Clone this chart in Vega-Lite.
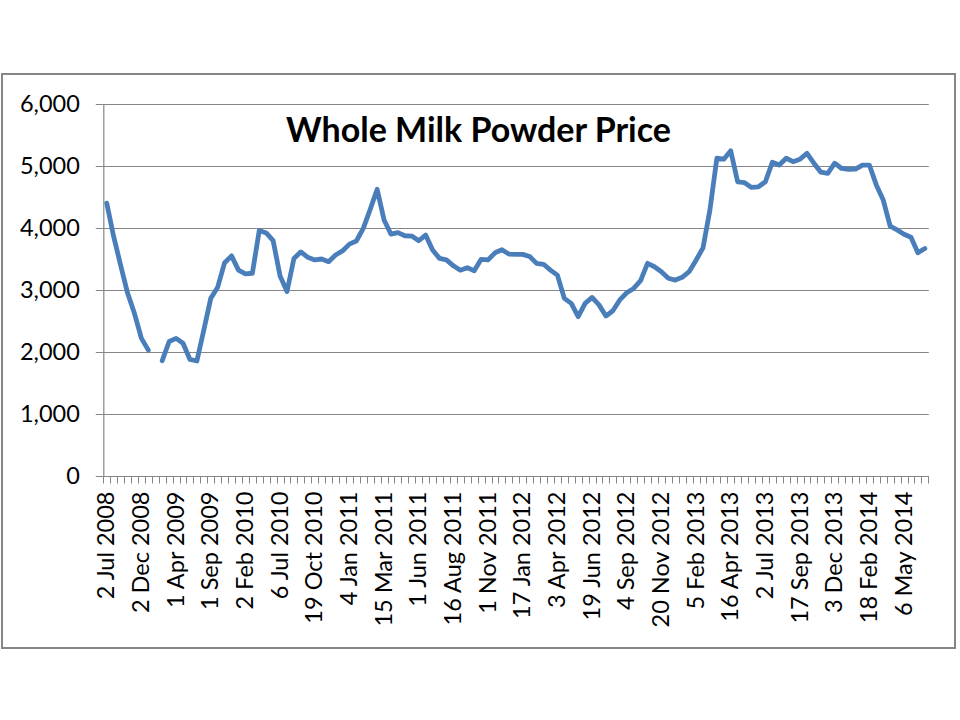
{
  "$schema": "https://vega.github.io/schema/vega-lite/v6.json",
  "autosize": {"type": "none"},
  "padding": {"left": 2, "top": 74, "right": 5, "bottom": 72},
  "width": 953,
  "height": 574,
  "background": "white",
  "title": {
    "text": "Whole Milk Powder Price",
    "anchor": "middle",
    "frame": "group",
    "font": "Lato",
    "fontSize": 34,
    "fontWeight": "bold",
    "color": "black",
    "baseline": "alphabetic",
    "offset": 0,
    "dy": 102
  },
  "data": {
    "values": [
      {"i": 0, "date": "2 Jul 2008", "price": 4400},
      {"i": 1, "date": "5 Aug 2008", "price": 3860},
      {"i": 2, "date": "2 Sep 2008", "price": 3400},
      {"i": 3, "date": "7 Oct 2008", "price": 2950},
      {"i": 4, "date": "4 Nov 2008", "price": 2620},
      {"i": 5, "date": "2 Dec 2008", "price": 2220},
      {"i": 6, "date": "16 Dec 2008", "price": 2030},
      {"i": 7, "date": "6 Jan 2009", "price": null},
      {"i": 8, "date": "3 Feb 2009", "price": 1860},
      {"i": 9, "date": "3 Mar 2009", "price": 2170},
      {"i": 10, "date": "1 Apr 2009", "price": 2220},
      {"i": 11, "date": "5 May 2009", "price": 2140},
      {"i": 12, "date": "2 Jun 2009", "price": 1880},
      {"i": 13, "date": "7 Jul 2009", "price": 1855},
      {"i": 14, "date": "4 Aug 2009", "price": 2355},
      {"i": 15, "date": "1 Sep 2009", "price": 2865},
      {"i": 16, "date": "6 Oct 2009", "price": 3045},
      {"i": 17, "date": "3 Nov 2009", "price": 3440},
      {"i": 18, "date": "1 Dec 2009", "price": 3550},
      {"i": 19, "date": "5 Jan 2010", "price": 3320},
      {"i": 20, "date": "2 Feb 2010", "price": 3260},
      {"i": 21, "date": "2 Mar 2010", "price": 3270},
      {"i": 22, "date": "6 Apr 2010", "price": 3960},
      {"i": 23, "date": "4 May 2010", "price": 3920},
      {"i": 24, "date": "1 Jun 2010", "price": 3795},
      {"i": 25, "date": "6 Jul 2010", "price": 3225},
      {"i": 26, "date": "3 Aug 2010", "price": 2975},
      {"i": 27, "date": "1 Sep 2010", "price": 3510},
      {"i": 28, "date": "15 Sep 2010", "price": 3615},
      {"i": 29, "date": "5 Oct 2010", "price": 3527},
      {"i": 30, "date": "19 Oct 2010", "price": 3485},
      {"i": 31, "date": "2 Nov 2010", "price": 3500},
      {"i": 32, "date": "16 Nov 2010", "price": 3457},
      {"i": 33, "date": "1 Dec 2010", "price": 3565},
      {"i": 34, "date": "15 Dec 2010", "price": 3630},
      {"i": 35, "date": "4 Jan 2011", "price": 3740},
      {"i": 36, "date": "18 Jan 2011", "price": 3790},
      {"i": 37, "date": "1 Feb 2011", "price": 3995},
      {"i": 38, "date": "15 Feb 2011", "price": 4300},
      {"i": 39, "date": "1 Mar 2011", "price": 4625},
      {"i": 40, "date": "15 Mar 2011", "price": 4130},
      {"i": 41, "date": "5 Apr 2011", "price": 3900},
      {"i": 42, "date": "19 Apr 2011", "price": 3925},
      {"i": 43, "date": "3 May 2011", "price": 3875},
      {"i": 44, "date": "17 May 2011", "price": 3870},
      {"i": 45, "date": "1 Jun 2011", "price": 3795},
      {"i": 46, "date": "15 Jun 2011", "price": 3885},
      {"i": 47, "date": "5 Jul 2011", "price": 3645},
      {"i": 48, "date": "19 Jul 2011", "price": 3510},
      {"i": 49, "date": "2 Aug 2011", "price": 3485},
      {"i": 50, "date": "16 Aug 2011", "price": 3390},
      {"i": 51, "date": "1 Sep 2011", "price": 3320},
      {"i": 52, "date": "20 Sep 2011", "price": 3360},
      {"i": 53, "date": "4 Oct 2011", "price": 3310},
      {"i": 54, "date": "18 Oct 2011", "price": 3495},
      {"i": 55, "date": "1 Nov 2011", "price": 3485},
      {"i": 56, "date": "15 Nov 2011", "price": 3600},
      {"i": 57, "date": "1 Dec 2011", "price": 3650},
      {"i": 58, "date": "15 Dec 2011", "price": 3580},
      {"i": 59, "date": "4 Jan 2012", "price": 3575},
      {"i": 60, "date": "17 Jan 2012", "price": 3575},
      {"i": 61, "date": "1 Feb 2012", "price": 3540},
      {"i": 62, "date": "15 Feb 2012", "price": 3430},
      {"i": 63, "date": "6 Mar 2012", "price": 3415},
      {"i": 64, "date": "20 Mar 2012", "price": 3320},
      {"i": 65, "date": "3 Apr 2012", "price": 3240},
      {"i": 66, "date": "17 Apr 2012", "price": 2865},
      {"i": 67, "date": "1 May 2012", "price": 2785},
      {"i": 68, "date": "15 May 2012", "price": 2570},
      {"i": 69, "date": "5 Jun 2012", "price": 2785},
      {"i": 70, "date": "19 Jun 2012", "price": 2880},
      {"i": 71, "date": "3 Jul 2012", "price": 2760},
      {"i": 72, "date": "17 Jul 2012", "price": 2580},
      {"i": 73, "date": "1 Aug 2012", "price": 2665},
      {"i": 74, "date": "21 Aug 2012", "price": 2840},
      {"i": 75, "date": "4 Sep 2012", "price": 2955},
      {"i": 76, "date": "18 Sep 2012", "price": 3025},
      {"i": 77, "date": "2 Oct 2012", "price": 3150},
      {"i": 78, "date": "16 Oct 2012", "price": 3430},
      {"i": 79, "date": "6 Nov 2012", "price": 3375},
      {"i": 80, "date": "20 Nov 2012", "price": 3295},
      {"i": 81, "date": "4 Dec 2012", "price": 3190},
      {"i": 82, "date": "18 Dec 2012", "price": 3160},
      {"i": 83, "date": "2 Jan 2013", "price": 3205},
      {"i": 84, "date": "16 Jan 2013", "price": 3295},
      {"i": 85, "date": "5 Feb 2013", "price": 3480},
      {"i": 86, "date": "19 Feb 2013", "price": 3680},
      {"i": 87, "date": "5 Mar 2013", "price": 4290},
      {"i": 88, "date": "19 Mar 2013", "price": 5125},
      {"i": 89, "date": "2 Apr 2013", "price": 5110},
      {"i": 90, "date": "16 Apr 2013", "price": 5245},
      {"i": 91, "date": "1 May 2013", "price": 4745},
      {"i": 92, "date": "21 May 2013", "price": 4730},
      {"i": 93, "date": "4 Jun 2013", "price": 4655},
      {"i": 94, "date": "18 Jun 2013", "price": 4665},
      {"i": 95, "date": "2 Jul 2013", "price": 4745},
      {"i": 96, "date": "16 Jul 2013", "price": 5060},
      {"i": 97, "date": "6 Aug 2013", "price": 5015},
      {"i": 98, "date": "20 Aug 2013", "price": 5125},
      {"i": 99, "date": "3 Sep 2013", "price": 5070},
      {"i": 100, "date": "17 Sep 2013", "price": 5110},
      {"i": 101, "date": "1 Oct 2013", "price": 5205},
      {"i": 102, "date": "15 Oct 2013", "price": 5045},
      {"i": 103, "date": "5 Nov 2013", "price": 4900},
      {"i": 104, "date": "19 Nov 2013", "price": 4880},
      {"i": 105, "date": "3 Dec 2013", "price": 5045},
      {"i": 106, "date": "17 Dec 2013", "price": 4960},
      {"i": 107, "date": "7 Jan 2014", "price": 4945},
      {"i": 108, "date": "21 Jan 2014", "price": 4950},
      {"i": 109, "date": "4 Feb 2014", "price": 5015},
      {"i": 110, "date": "18 Feb 2014", "price": 5015},
      {"i": 111, "date": "4 Mar 2014", "price": 4695},
      {"i": 112, "date": "18 Mar 2014", "price": 4450},
      {"i": 113, "date": "1 Apr 2014", "price": 4030},
      {"i": 114, "date": "15 Apr 2014", "price": 3970},
      {"i": 115, "date": "6 May 2014", "price": 3900},
      {"i": 116, "date": "20 May 2014", "price": 3850},
      {"i": 117, "date": "3 Jun 2014", "price": 3600},
      {"i": 118, "date": "17 Jun 2014", "price": 3670}
    ]
  },
  "mark": {
    "type": "line",
    "color": "#4A7EBB",
    "strokeWidth": 4.8,
    "strokeJoin": "round",
    "strokeCap": "round",
    "invalid": "break-paths-show-domains"
  },
  "encoding": {
    "x": {
      "field": "i",
      "type": "quantitative",
      "scale": {"domain": [-0.5, 118.5], "range": [101.3, 926.3], "nice": false, "zero": false},
      "axis": {
        "title": null,
        "orient": "bottom",
        "offset": -172,
        "grid": false,
        "values": [-0.5, 0.5, 1.5, 2.5, 3.5, 4.5, 5.5, 6.5, 7.5, 8.5, 9.5, 10.5, 11.5, 12.5, 13.5, 14.5, 15.5, 16.5, 17.5, 18.5, 19.5, 20.5, 21.5, 22.5, 23.5, 24.5, 25.5, 26.5, 27.5, 28.5, 29.5, 30.5, 31.5, 32.5, 33.5, 34.5, 35.5, 36.5, 37.5, 38.5, 39.5, 40.5, 41.5, 42.5, 43.5, 44.5, 45.5, 46.5, 47.5, 48.5, 49.5, 50.5, 51.5, 52.5, 53.5, 54.5, 55.5, 56.5, 57.5, 58.5, 59.5, 60.5, 61.5, 62.5, 63.5, 64.5, 65.5, 66.5, 67.5, 68.5, 69.5, 70.5, 71.5, 72.5, 73.5, 74.5, 75.5, 76.5, 77.5, 78.5, 79.5, 80.5, 81.5, 82.5, 83.5, 84.5, 85.5, 86.5, 87.5, 88.5, 89.5, 90.5, 91.5, 92.5, 93.5, 94.5, 95.5, 96.5, 97.5, 98.5, 99.5, 100.5, 101.5, 102.5, 103.5, 104.5, 105.5, 106.5, 107.5, 108.5, 109.5, 110.5, 111.5, 112.5, 113.5, 114.5, 115.5, 116.5, 117.5, 118.5],
        "labelExpr": "(datum.value + 0.5) % 5 == 0 && datum.value < 118 ? ['2 Jul 2008', '2 Dec 2008', '1 Apr 2009', '1 Sep 2009', '2 Feb 2010', '6 Jul 2010', '19 Oct 2010', '4 Jan 2011', '15 Mar 2011', '1 Jun 2011', '16 Aug 2011', '1 Nov 2011', '17 Jan 2012', '3 Apr 2012', '19 Jun 2012', '4 Sep 2012', '20 Nov 2012', '5 Feb 2013', '16 Apr 2013', '2 Jul 2013', '17 Sep 2013', '3 Dec 2013', '18 Feb 2014', '6 May 2014'][(datum.value + 0.5) / 5] : ''",
        "labelAngle": -90,
        "labelAlign": "right",
        "labelBaseline": "middle",
        "labelOffset": 3.47,
        "labelPadding": 8,
        "labelFlush": false,
        "labelOverlap": false,
        "labelBound": false,
        "labelFont": "Lato",
        "labelFontSize": 23.5,
        "labelColor": "black",
        "tickSize": 7,
        "tickColor": "#868686",
        "domainColor": "#868686",
        "domainWidth": 1.2
      }
    },
    "y": {
      "field": "price",
      "type": "quantitative",
      "scale": {"domain": [0, 6000], "range": [402, 30], "nice": false},
      "axis": {
        "title": null,
        "orient": "left",
        "offset": -101.3,
        "values": [0, 1000, 2000, 3000, 4000, 5000, 6000],
        "format": ",.0f",
        "grid": true,
        "gridColor": "#868686",
        "gridWidth": 1.2,
        "tickSize": 8,
        "tickColor": "#868686",
        "domainColor": "#868686",
        "domainWidth": 1.2,
        "labelFont": "Lato",
        "labelFontSize": 23.5,
        "labelColor": "black",
        "labelPadding": 16
      }
    }
  },
  "config": {
    "view": {"stroke": "#868686", "strokeWidth": 2}
  }
}
